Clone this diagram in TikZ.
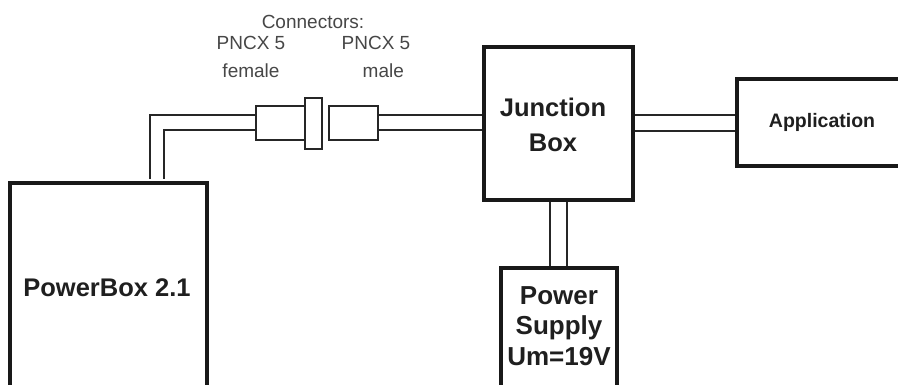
\documentclass[tikz,border=0pt]{standalone}
\usepackage{fontspec}
\setmainfont{Liberation Sans}
\begin{document}
\begin{tikzpicture}[x=1pt,y=-1pt,
  bigbox/.style={draw=black!90,line width=4pt,fill=white,inner sep=0pt},
  conbox/.style={draw=black!85,line width=1.6pt,fill=white,inner sep=0pt},
  cable/.style={draw=black!85,line width=1.6pt},
  lbl/.style={font=\bfseries\fontsize{25.5}{35}\selectfont,text=black!88,align=center},
  clbl/.style={font=\fontsize{19}{28}\selectfont,text=black!72,align=center}]
\clip (0,0) rectangle (898,385);
\fill[white] (0,0) rectangle (898,385);
% boxes
\node[bigbox,minimum width=197pt,minimum height=212pt] (pb) at (108.5,289) {};
\node[lbl] (pbt) at (107,288) {PowerBox 2.1};
\node[bigbox,minimum width=149pt,minimum height=153pt] (jb) at (558.5,123.5) {};
\node[lbl,font=\bfseries\fontsize{25.5}{35}\selectfont] (jbt) at (553,124.5) {Junction\\Box};
\node[bigbox,minimum width=180pt,minimum height=87pt] (app) at (827,123) {};
\node[lbl,font=\bfseries\fontsize{19.5}{24}\selectfont] (appt) at (822,122) {Application};
\node[bigbox,minimum width=116pt,minimum height=130pt] (ps) at (559,333) {};
\node[lbl,font=\bfseries\fontsize{26}{30.5}\selectfont] (pst) at (559,326) {Power\\Supply\\Um=19V};
% connectors
\node[conbox,minimum width=49pt,minimum height=34pt] (fem) at (280.5,123) {};
\node[conbox,minimum width=17pt,minimum height=51pt] (fl) at (313.5,123.5) {};
\node[conbox,minimum width=49pt,minimum height=34pt] (male) at (353.5,123) {};
% cables
\coordinate (c1) at (150,115);
\coordinate (c2) at (164,130);
\draw[cable] (pb.north west -| c1) ++(0,-2) -- (c1) -- (c1 -| fem.west);
\draw[cable] (pb.north west -| c2) ++(0,-2) -- (c2) -- (c2 -| fem.west);
\draw[cable] (male.east |- c1) -- (jb.west |- c1);
\draw[cable] (male.east |- c2) -- (jb.west |- c2);
\coordinate (r1) at (0,115);
\coordinate (r2) at (0,131);
\draw[cable] (jb.east |- r1) -- (app.west |- r1);
\draw[cable] (jb.east |- r2) -- (app.west |- r2);
\coordinate (v1) at (550,0);
\coordinate (v2) at (567,0);
\draw[cable] (jb.south -| v1) -- (ps.north -| v1);
\draw[cable] (jb.south -| v2) -- (ps.north -| v2);
% labels
\node[clbl] (ct) at (313,22) {Connectors:};
\node[clbl] (fl1) at (251,57) {PNCX 5\\female};
\node[clbl,align=left] (ml1) at (376,57) {PNCX 5\\\hspace*{21pt}male};
\end{tikzpicture}
\end{document}
